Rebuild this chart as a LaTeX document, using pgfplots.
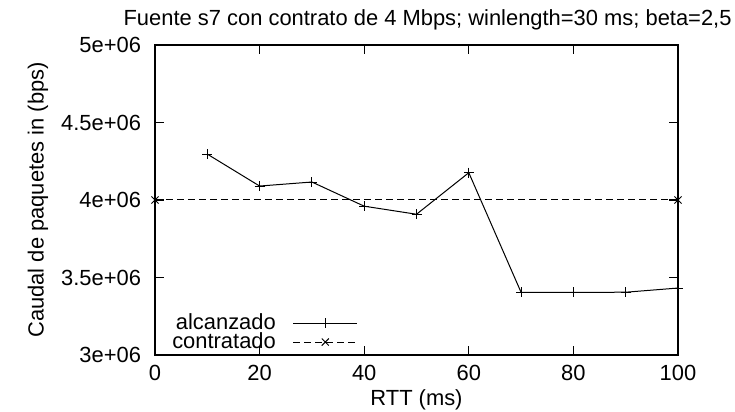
\documentclass[border=0pt]{standalone}
\usepackage{fontspec}
\setmainfont{Liberation Sans}
\usepackage{pgfplots}
\pgfplotsset{compat=1.18}
\newlength{\px}\setlength{\px}{0.5bp}
\newcommand{\fs}{\fontsize{11}{13}\selectfont}
\begin{document}
\begin{tikzpicture}
\begin{axis}[
  scale only axis, width=523\px, height=310\px,
  xmin=0, xmax=100, ymin=3e6, ymax=5e6,
  xtick={0,20,...,100},
  ytick={3e6,3.5e6,4e6,4.5e6,5e6},
  yticklabels={3e+06,3.5e+06,4e+06,4.5e+06,5e+06},
  scaled y ticks=false,
  tick align=inside, major tick length=9\px,
  axis line style={line width=1bp},
  every tick/.style={black, line width=0.6bp},
  /pgf/number format/assume math mode=true,
  tick label style={font=\fs},
  xticklabel style={yshift=-3\px},
  yticklabel style={xshift=-7\px},
  label style={font=\fs},
  xlabel={RTT (ms)},
  ylabel={Caudal de paquetes in (bps)},
  xlabel style={at={([yshift=-45\px]rel axis cs:0.5,0)}, anchor=center},
  ylabel style={at={([xshift=-117\px]rel axis cs:0,0.5)}, anchor=center},
  title={Fuente s7 con contrato de 4 Mbps; winlength=30 ms; beta=2,5},
  title style={font=\fs, at={(rel axis cs:1,1)}, anchor=base east, xshift=54\px, yshift=8\px, inner sep=0pt},
  legend plot pos=right,
  legend cell align=right,
  legend style={draw=none, fill=none, font=\fs,
    at={(rel axis cs:0.40,0.16)}, anchor=north east, row sep=-8\px,
    /tikz/every odd column/.append style={column sep=13\px}},
  legend image code/.code={\draw[mark repeat=2,mark phase=2,#1] plot coordinates {(0\px,0\px) (32\px,0\px) (64\px,0\px)};},
]
\addplot[black, line width=0.5bp, mark=+, mark size=5\px, mark options={solid, line width=0.5bp}] coordinates {
(10,4.296e6) (20,4.09e6) (30,4.116e6) (40,3.96e6) (50,3.908e6) (60,4.176e6)
(70,3.404e6) (80,3.404e6) (90,3.405e6) (100,3.432e6)
};
\addlegendentry{alcanzado}
\addplot[black, line width=0.5bp, dash pattern=on 7\px off 4\px, mark=x, mark size=5\px, mark options={solid, line width=0.5bp}] coordinates {
(0,4e6) (100,4e6)
};
\addlegendentry{contratado}
\coordinate (SW) at (rel axis cs:0,0);
\coordinate (NE) at (rel axis cs:1,1);
\end{axis}
\pgfresetboundingbox
\path ([shift={(-155\px,-57\px)}]SW) rectangle ([shift={(57\px,45\px)}]NE);
\end{tikzpicture}
\end{document}
